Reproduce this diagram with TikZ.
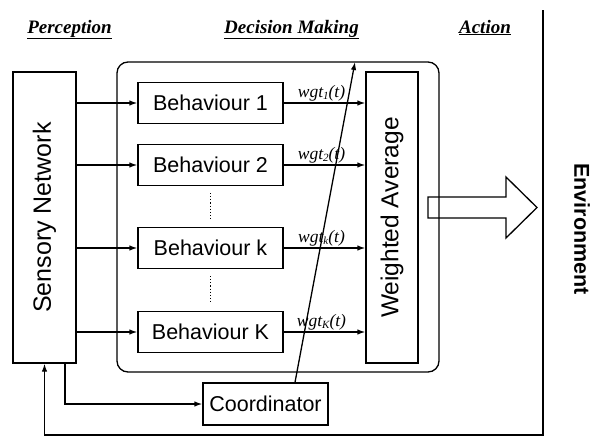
\documentclass[tikz,border=0pt]{standalone}
\usepackage{fontspec}
\setmainfont{Liberation Sans}
\newfontfamily\serifit{Liberation Serif}
\usetikzlibrary{arrows.meta,calc}
\newcommand{\wlab}[1]{{\serifit\itshape wgt\raisebox{-2.5pt}{\fontsize{11}{11}\selectfont #1}(t)}}
\tikzset{
  box/.style={draw, line width=1.3pt, inner sep=0pt, font=\fontsize{21.5}{24}\selectfont},
  arr/.style={-{Latex[length=8pt,width=5.5pt]}, line width=1.3pt},
  ln/.style={line width=1.3pt},
  title/.style={anchor=base, font=\fontsize{19}{20}\selectfont\serifit\bfseries\itshape},
  wl/.style={font=\fontsize{17.5}{18}\selectfont, inner sep=1.5pt, above}
}
\begin{document}
\begin{tikzpicture}[x=1pt,y=-1pt]
\useasboundingbox (0,0) rectangle (592,437);
% titles
\node[title] (tp) at (69.5,33) {\underline{Perception}};
\node[title] (td) at (291.5,33) {\underline{Decision Making}};
\node[title] (ta) at (485,33) {\underline{Action}};
% container
\node[draw, line width=1.3pt, rounded corners=11pt, minimum width=322pt, minimum height=310pt, inner sep=0pt] (cont) at (278,217) {};
% sensory network
\node[box, minimum width=63pt, minimum height=291pt] (sens) at (44.5,217.5) {};
\node[rotate=90, font=\fontsize{25}{26}\selectfont] (senst) at (sens.center) {Sensory Network};
% behaviours
\node[box, minimum width=145pt, minimum height=41pt] (b1) at (210.5,103) {Behaviour 1};
\node[box, minimum width=145pt, minimum height=41pt] (b2) at (210.5,165) {Behaviour 2};
\node[box, minimum width=145pt, minimum height=41pt] (bk) at (210.5,248) {Behaviour k};
\node[box, minimum width=145pt, minimum height=41pt] (bK) at (210.5,332) {Behaviour K};
% weighted average
\node[box, minimum width=52pt, minimum height=291pt] (wa) at (392,217.5) {};
\node[rotate=90, font=\fontsize{24.5}{26}\selectfont] (wat) at (wa.center) {Weighted Average};
% coordinator
\node[box, minimum width=125pt, minimum height=42pt] (coord) at (265.5,404) {Coordinator};
% dotted
\draw[line width=1.1pt, dotted, shorten <=7pt, shorten >=8pt] (b2.south) -- (bk.north);
\draw[line width=1.1pt, dotted, shorten <=7pt, shorten >=7pt] (bk.south) -- (bK.north);
% inputs
\foreach \b in {b1,b2,bk,bK} {
  \draw[arr] (\b.west -| sens.east) -- (\b.west);
}
% outputs with weights
\draw[arr] (b1.east) -- (b1.east -| wa.west) node[wl, midway, xshift=-3pt] (w1) {\wlab{1}};
\draw[arr] (b2.east) -- (b2.east -| wa.west) node[wl, midway, xshift=-3pt] (w2) {\wlab{2}};
\draw[arr] (bk.east) -- (bk.east -| wa.west) node[wl, midway, xshift=-3pt] (wk) {\wlab{k}};
\draw[arr] (bK.east) -- (bK.east -| wa.west) node[wl, midway, xshift=-3pt] (wK) {\wlab{K}};
% coordinator diagonal
\coordinate (ctip) at (355,62);
\draw[arr] ([xshift=29.5pt]coord.north) -- (ctip);
% sensory to coordinator
\draw[arr] ([xshift=20.5pt]sens.south) |- (coord.west);
% environment boundary and feedback
\coordinate (envtop) at (543,10);
\coordinate (envbot) at (543,435);
\draw[arr] (envtop) -- (envbot) -| (sens.south);
% hollow arrow
\draw[ln, line join=miter] (428,197) -- (506,197) -- (506,177) -- (537,207.5) -- (506,238) -- (506,218) -- (428,218) -- cycle;
% environment label
\node[rotate=-90, font=\fontsize{21.5}{22}\selectfont\bfseries] (env) at (582,229) {Environment};
\end{tikzpicture}
\end{document}
